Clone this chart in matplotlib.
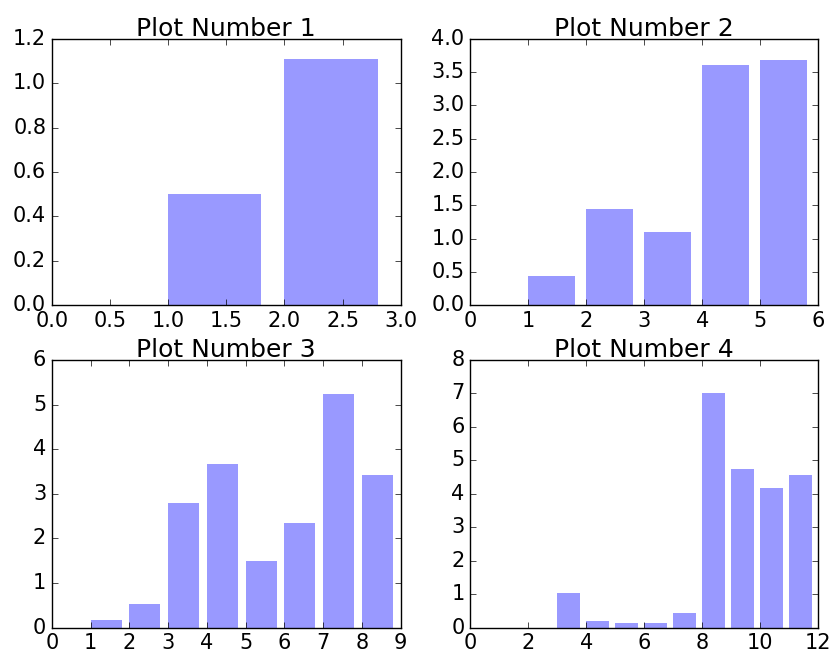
import matplotlib
matplotlib.use("Agg")
import matplotlib.pyplot as plt

plt.style.use('classic')
plt.rcParams['font.family'] = ['DejaVu Sans']
plt.rcParams['font.size'] = 15

titles = ["Plot Number 1", "Plot Number 2", "Plot Number 3", "Plot Number 4"]
values1 = [0.0, 0.50, 1.11]
values2 = [0.0, 0.44, 1.45, 1.10, 3.61, 3.68]
values3 = [0.0, 0.17, 0.53, 2.80, 3.66, 1.50, 2.35, 5.23, 3.42]
values4 = [0.0, 0.0, 0.0, 1.05, 0.20, 0.15, 0.15, 0.45, 7.02, 4.75, 4.17, 4.57]
all_values = [values1, values2, values3, values4]

fig = plt.figure(figsize=(8.35, 6.58), dpi=100)
fig.patch.set_facecolor('white')

boxes = [
    [0.062, 0.536, 0.418, 0.405],
    [0.563, 0.536, 0.417, 0.405],
    [0.062, 0.046, 0.418, 0.407],
    [0.563, 0.046, 0.417, 0.407],
]

for box, title, vals in zip(boxes, titles, all_values):
    ax = fig.add_axes(box)
    xs = list(range(len(vals)))
    ax.bar(xs, vals, width=0.8, align='edge', color='b', alpha=0.4, linewidth=0)
    ax.set_xlim(0, len(vals))
    ax.set_title(title, fontsize=18, pad=2)
    ax.tick_params(labelsize=15)

fig.savefig("out.png", dpi=100, facecolor='white')
